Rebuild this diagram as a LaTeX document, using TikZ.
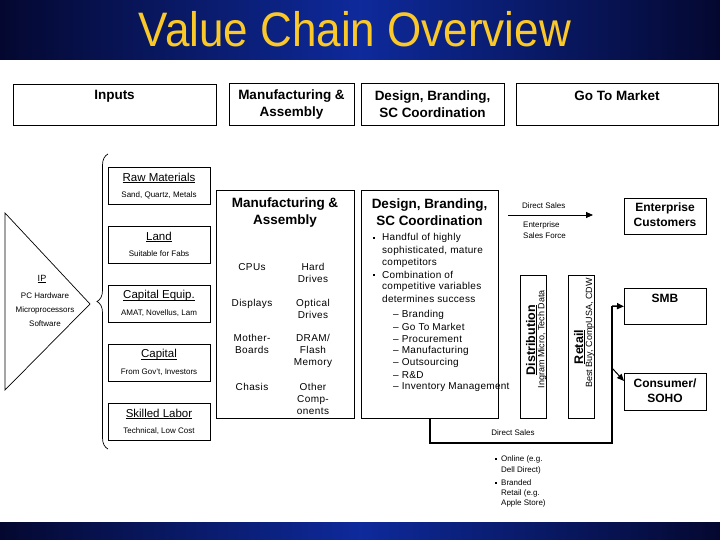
\documentclass[tikz,border=0pt]{standalone}
\usepackage{fontspec}
\usepackage{graphicx}
\setmainfont{Liberation Sans}
\newfontfamily\wide[LetterSpace=4]{Liberation Sans}
\newfontfamily\bwide[LetterSpace=3]{Liberation Sans}
\usetikzlibrary{arrows.meta,decorations.pathreplacing,calc}
\definecolor{navyedge}{RGB}{4,8,48}
\definecolor{navymid}{RGB}{14,42,155}
\definecolor{titlegold}{RGB}{250,200,40}
\newcommand{\ulx}[1]{\setbox0\hbox{#1}\rlap{\rule[-1.6pt]{\wd0}{0.6pt}}\box0}
\begin{document}
\begin{tikzpicture}[x=1pt,y=-1pt,
  bx/.style={draw=black, line width=0.7pt, inner sep=0pt, anchor=north west},
  hdr/.style={font=\fontsize{13.5}{17}\selectfont\bfseries, inner sep=0pt, align=center},
  rhdr/.style={font=\fontsize{12}{15}\selectfont\bfseries, inner sep=0pt, align=center},
  subtxt/.style={font=\fontsize{8}{10}\selectfont, inner sep=0pt},
  inh/.style={font=\fontsize{11.5}{13}\selectfont, inner sep=0pt},
  mfgtxt/.style={font=\fontsize{10}{12}\selectfont\wide, align=center, inner sep=0pt, anchor=north},
  blt/.style={font=\fontsize{10}{12}\selectfont\bwide, inner sep=0pt, anchor=west},
  sq/.style={fill=black, minimum size=2.6pt, inner sep=0pt},
  smallsq/.style={fill=black, minimum size=1.6pt, inner sep=0pt},
  dsline/.style={line width=1.5pt},
  arrowed/.style={-{Triangle[length=7pt,width=6pt]}},
]
\useasboundingbox (0,0) rectangle (720,540);
% title bar
\shade[left color=navyedge,right color=navyedge,middle color=navymid] (0,0) rectangle (720,60);
\node[text=titlegold, inner sep=0pt, font=\fontsize{44}{44}\selectfont] (title) at (355,29) {\scalebox{1}[1.1]{Value Chain Overview}};
% bottom bar
\shade[left color=navyedge,right color=navyedge,middle color=navymid] (0,522) rectangle (720,540);

% header boxes
\node[bx, minimum width=203pt, minimum height=41pt] (inputsH) at (13,84) {};
\node[bx, minimum width=125pt, minimum height=42pt] (mfgH) at (229,83) {};
\node[bx, minimum width=143pt, minimum height=42pt] (desH) at (361,83) {};
\node[bx, minimum width=202pt, minimum height=42pt] (gtmH) at (516,83) {};
\node[hdr] (inputsT) at (114.5,96) {Inputs};
\node[hdr] (mfgT) at (291.5,104.5) {Manufacturing \&\\Assembly};
\node[hdr] (desT) at (432.5,104.5) {Design, Branding,\\SC Coordination};
\node[hdr] (gtmT) at (617,96) {Go To Market};

% IP triangle
\draw[line width=0.7pt] (5,213) -- (90,304) -- (5,390) -- cycle;
\node[font=\fontsize{9}{10}\selectfont, inner sep=0pt] (ipT) at (42,279) {\ulx{IP}};
\node[subtxt] (ip1) at (45,296) {PC Hardware};
\node[subtxt] (ip2) at (45,310) {Microprocessors};
\node[subtxt] (ip3) at (45,324) {Software};

% brace
\draw[decorate, decoration={brace, amplitude=11pt}, line width=0.7pt] (108,449) -- (108,154);

% input boxes
\node[bx, minimum width=102pt, minimum height=37pt] (raw) at (108,167) {};
\node[inh] (rawT) at (159,178) {\ulx{Raw Materials}};
\node[subtxt] (rawS) at (159,195) {Sand, Quartz, Metals};
\node[bx, minimum width=102pt, minimum height=37pt] (land) at (108,226) {};
\node[inh] (landT) at (159,237) {\ulx{Land}};
\node[subtxt] (landS) at (159,254) {Suitable for Fabs};
\node[bx, minimum width=102pt, minimum height=37pt] (equip) at (108,285) {};
\node[inh] (equipT) at (159,296) {\ulx{Capital Equip.}};
\node[subtxt] (equipS) at (159,313) {AMAT, Novellus, Lam};
\node[bx, minimum width=102pt, minimum height=37pt] (cap) at (108,344) {};
\node[inh] (capT) at (159,355) {\ulx{Capital}};
\node[subtxt] (capS) at (159,372) {From Gov't, Investors};
\node[bx, minimum width=102pt, minimum height=37pt] (labor) at (108,403) {};
\node[inh] (laborT) at (159,414) {\ulx{Skilled Labor}};
\node[subtxt] (laborS) at (159,431) {Technical, Low Cost};

% manufacturing body
\node[bx, minimum width=138pt, minimum height=228pt] (mfgB) at (216,190) {};
\node[hdr] (mfgBT) at (285,212.5) {Manufacturing \&\\Assembly};
\node[mfgtxt] (m1) at (252,263.5) {CPUs};
\node[mfgtxt] (m2) at (313,263.5) {Hard\\Drives};
\node[mfgtxt] (m3) at (252,299) {Displays};
\node[mfgtxt] (m4) at (313,299) {Optical\\Drives};
\node[mfgtxt] (m5) at (252,334.5) {Mother-\\Boards};
\node[mfgtxt] (m6) at (313,334.5) {DRAM/\\Flash\\Memory};
\node[mfgtxt] (m7) at (252,383) {Chasis};
\node[mfgtxt] (m8) at (313,383) {Other\\Comp-\\onents};

% design body
\node[bx, minimum width=137pt, minimum height=228pt] (desB) at (361,190) {};
\node[hdr] (desBT) at (429.5,212.5) {Design, Branding,\\SC Coordination};
\node[sq] (bq1) at (374,238) {};
\node[blt] (d1) at (382,238) {Handful of highly};
\node[blt] (d2) at (382,250.5) {sophisticated, mature};
\node[blt] (d3) at (382,263) {competitors};
\node[sq] (bq2) at (374,275) {};
\node[blt] (d4) at (382,275) {Combination of};
\node[blt] (d5) at (382,287) {competitive variables};
\node[blt] (d6) at (382,299) {determines success};
\node[blt] (s1) at (393,315) {– Branding};
\node[blt] (s2) at (393,327) {– Go To Market};
\node[blt] (s3) at (393,339) {– Procurement};
\node[blt] (s4) at (393,351) {– Manufacturing};
\node[blt] (s5) at (393,363) {– Outsourcing};
\node[blt] (s6) at (393,375) {– R\&D};
\node[blt] (s7) at (393,387) {– Inventory Management};

% direct sales (enterprise)
\coordinate (dsA) at (508,215);
\coordinate (dsB) at (593,215);
\draw[line width=0.8pt, arrowed] (dsA) -- (dsB);
\node[subtxt, anchor=west] (dsT) at (522,206) {Direct Sales};
\node[subtxt, anchor=west] (esT1) at (523,225) {Enterprise};
\node[subtxt, anchor=west] (esT2) at (523,236) {Sales Force};

% distribution & retail
\node[bx, minimum width=26pt, minimum height=143pt] (dist) at (520,275) {};
\node[rotate=90, inner sep=0pt, font=\fontsize{12.5}{14}\selectfont\bfseries] (distT) at (531.5,340) {\ulx{Distribution}};
\node[rotate=90, inner sep=0pt, font=\fontsize{9}{10}\selectfont] (distS) at (542,339) {Ingram Micro, Tech Data};
\node[bx, minimum width=26pt, minimum height=143pt] (retail) at (568,275) {};
\node[rotate=90, inner sep=0pt, font=\fontsize{12.5}{14}\selectfont\bfseries] (retT) at (579.5,347) {\ulx{Retail}};
\node[rotate=90, inner sep=0pt, font=\fontsize{9}{10}\selectfont] (retS) at (590,333) {Best Buy, CompUSA, CDW};

% customer boxes
\node[bx, minimum width=82pt, minimum height=36pt] (ent) at (624,198) {};
\node[rhdr] (entT) at (665,215) {Enterprise\\Customers};
\node[bx, minimum width=82pt, minimum height=36pt] (smb) at (624,288) {};
\node[rhdr] (smbT) at (665,298) {SMB};
\node[bx, minimum width=82pt, minimum height=37pt] (cons) at (624,373) {};
\node[rhdr] (consT) at (665,390.5) {Consumer/\\SOHO};

% direct sales frame
\coordinate (fr) at (612,443);
\coordinate (ft) at (612,306);
\coordinate (dg) at (612,368);
\coordinate (dgEnd) at (624,381);
\draw[dsline] (desB.south) |- (fr) -- (ft);
\draw[dsline, arrowed] (ft) -- (smb.west);
\draw[line width=1pt, arrowed] (dg) -- (dgEnd);
\node[subtxt] (ds2T) at (513,433) {Direct Sales};

% lower bullets
\node[smallsq] (lb1) at (496,459) {};
\node[subtxt, anchor=west] (l1) at (501,459) {Online (e.g.};
\node[subtxt, anchor=west] (l2) at (501,470) {Dell Direct)};
\node[smallsq] (lb2) at (496,483) {};
\node[subtxt, anchor=west] (l3) at (501,483) {Branded};
\node[subtxt, anchor=west] (l4) at (501,493) {Retail (e.g.};
\node[subtxt, anchor=west] (l5) at (501,503) {Apple Store)};
\end{tikzpicture}
\end{document}
